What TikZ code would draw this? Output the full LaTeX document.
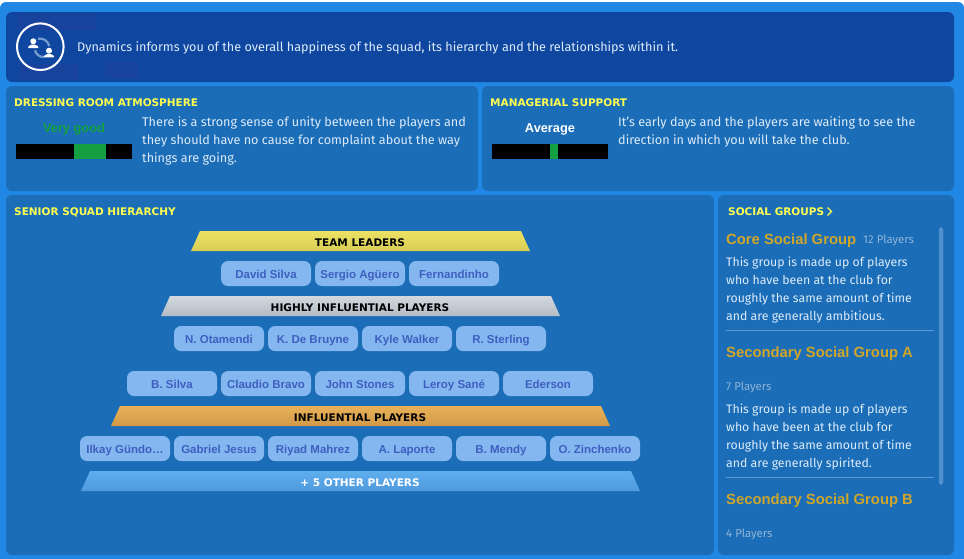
\documentclass[tikz,border=0pt]{standalone}
\usepackage{xcolor}
\usepackage{fontspec}
\setmainfont{Fira Sans}
\newfontfamily\headfont{DejaVu Sans}
\newfontfamily\chipfont{Liberation Sans}

\definecolor{frameblue}{HTML}{2088E4}
\definecolor{headblue}{HTML}{0F47A0}
\definecolor{patchblue}{HTML}{17439D}
\definecolor{panelblue}{HTML}{1A6DB6}
\definecolor{chipblue}{HTML}{84B7F0}
\definecolor{chiptext}{HTML}{3F5FC0}
\definecolor{headyellow}{HTML}{FFFF50}
\definecolor{bodytext}{HTML}{DCEBFA}
\definecolor{barkgreen}{HTML}{14A040}
\definecolor{groupgold}{HTML}{CFA62A}
\definecolor{countgray}{HTML}{8FB4DA}
\definecolor{rulegray}{HTML}{5C9AD4}
\definecolor{leadtop}{HTML}{EBE264}
\definecolor{leadbot}{HTML}{D9CE55}
\definecolor{hightop}{HTML}{D2D8DE}
\definecolor{highbot}{HTML}{B4BCC4}
\definecolor{inftop}{HTML}{E8B158}
\definecolor{infbot}{HTML}{D29A48}
\definecolor{othtop}{HTML}{5EAEEE}
\definecolor{othbot}{HTML}{4F9ADC}

\tikzset{
    panel/.style={fill=panelblue, rounded corners=6},
    heading/.style={anchor=base west, inner sep=0, text=headyellow, font=\headfont\fontsize{10.5}{13}\selectfont\bfseries},
    bodyline/.style={anchor=base west, inner sep=0, text=bodytext, font=\fontsize{12.65}{15}\selectfont},
    smallline/.style={anchor=base west, inner sep=0, text=bodytext, font=\fontsize{12.3}{15}\selectfont},
    groupname/.style={anchor=base west, inner sep=0, text=groupgold, font=\chipfont\fontsize{14.8}{17}\selectfont\bfseries},
    groupcount/.style={anchor=base west, inner sep=0, text=countgray, font=\fontsize{11.4}{13}\selectfont},
    chip/.style={fill=chipblue, rounded corners=7, minimum width=90pt, minimum height=25pt, inner sep=0, text=chiptext, text height=10pt, text depth=0.5pt, font=\chipfont\fontsize{11.5}{13}\selectfont\bfseries},
    banner/.style={inner sep=0, text height=8pt, text depth=0pt, font=\headfont\fontsize{10.5}{13}\selectfont\bfseries},
    rating/.style={inner sep=0, font=\chipfont\fontsize{12.8}{15}\selectfont\bfseries}
}

\begin{document}
\begin{tikzpicture}[x=1pt, y=-1pt]
    \useasboundingbox (0,0) rectangle (964,558);

    % Frame and panels
    \fill[frameblue, rounded corners=6] (0,2) rectangle (964,570);
    \fill[headblue, rounded corners=6] (6,12) rectangle (954,82);
    \fill[panel] (6,86) rectangle (478,191);
    \fill[panel] (482,86) rectangle (954,191);
    \fill[panel] (6,195) rectangle (714,555);
    \fill[panel] (718,195) rectangle (954,555);

    % Faint patches behind the header
    \fill[patchblue] (18,14) rectangle (96,30);
    \fill[patchblue] (20,64) rectangle (78,80);
    \fill[patchblue] (105,62) rectangle (138,78);

    % Icon
    \draw[white, line width=2pt] (40.3,46.7) circle (23.3);
    \draw[countgray!80!headblue, line width=2.2pt] (38,38.7) .. controls (43,37.5) and (48,41) .. (49.3,46);
    \draw[countgray!80!headblue, line width=2.2pt] (35,50.3) .. controls (36,54.5) and (40,57.5) .. (44.5,57);
    \foreach \px/\py in {33.3/41.3,49/50.7} {
        \fill[white] (\px,\py) circle (3);
        \fill[white, rounded corners=0.8] (\px-5.2,\py+6.7) -- (\px-5.2,\py+5.2) -- (\px-1.5,\py+3.2) -- (\px+1.5,\py+3.2) -- (\px+5.2,\py+5.2) -- (\px+5.2,\py+6.7) -- cycle;
    }
    \node[bodyline] (intro) at (77,51) {Dynamics informs you of the overall happiness of the squad, its hierarchy and the relationships within it.};

    % Dressing room atmosphere
    \node[heading] (atmoshead) at (14,106) {DRESSING ROOM ATMOSPHERE};
    \node[rating, text=barkgreen] (atmosvalue) at (74,129) {Very good};
    \fill[black] (16,144) rectangle (132,159);
    \fill[barkgreen] (74,144) rectangle (106,159);
    \node[bodyline] (atmosa) at (142,126) {There is a strong sense of unity between the players and};
    \node[bodyline] (atmosb) at (142,144) {they should have no cause for complaint about the way};
    \node[bodyline] (atmosc) at (142,162) {things are going.};

    % Managerial support
    \node[heading] (mgrhead) at (490,106) {MANAGERIAL SUPPORT};
    \node[rating, text=white] (mgrvalue) at (550,129) {Average};
    \fill[black] (492,144) rectangle (608,159);
    \fill[barkgreen] (550,144) rectangle (558,159);
    \node[bodyline] (mgra) at (618,126) {It's early days and the players are waiting to see the};
    \node[bodyline] (mgrb) at (618,144) {direction in which you will take the club.};

    % Senior squad hierarchy
    \node[heading] (squadhead) at (14,215) {SENIOR SQUAD HIERARCHY};

    % Banners of the pyramid
    \shade[top color=leadtop, bottom color=leadbot] (200,231) -- (521,231) -- (530,251) -- (191,251) -- cycle;
    \node[banner] (leaders) at (360,242) {TEAM LEADERS};
    \shade[top color=hightop, bottom color=highbot] (170,296) -- (551,296) -- (560,316) -- (161,316) -- cycle;
    \node[banner] (highly) at (360,307) {HIGHLY INFLUENTIAL PLAYERS};
    \shade[top color=inftop, bottom color=infbot] (120,406) -- (601,406) -- (610,426) -- (111,426) -- cycle;
    \node[banner] (influential) at (360,417) {INFLUENTIAL PLAYERS};
    \shade[top color=othtop, bottom color=othbot] (90,471) -- (631,471) -- (640,491) -- (81,491) -- cycle;
    \node[banner, text=white] (others) at (360,482) {+ 5 OTHER PLAYERS};

    % Players
    \foreach \x/\name in {266/David Silva,360/Sergio Agüero,454/Fernandinho} {
        \node[chip] (lead\x) at (\x,273.5) {\name};
    }
    \foreach \x/\name in {219/N. Otamendi,313/K. De Bruyne,407/Kyle Walker,501/R. Sterling} {
        \node[chip] (high\x) at (\x,338.5) {\name};
    }
    \foreach \x/\name in {172/B. Silva,266/Claudio Bravo,360/John Stones,454/Leroy Sané,548/Ederson} {
        \node[chip] (infa\x) at (\x,383.5) {\name};
    }
    \foreach \x/\name in {125/Ilkay Gündo…,219/Gabriel Jesus,313/Riyad Mahrez,407/A. Laporte,501/B. Mendy,595/O. Zinchenko} {
        \node[chip] (infb\x) at (\x,448.5) {\name};
    }

    % Social groups
    \node[heading] (socialhead) at (728,215) {SOCIAL GROUPS};
    \draw[headyellow, line width=1.2pt] (827.5,207.5) -- (831.5,211.5) -- (827.5,215.5);
    \fill[rulegray!80!panelblue, draw=headblue!60!panelblue, rounded corners=2] (938.5,227) rectangle (943.5,485);

    \node[groupname] (core) at (726,244) {Core Social Group};
    \node[groupcount] (corecount) at (863,243) {12 Players};
    \foreach \y/\txt in {266/This group is made up of players,284/who have been at the club for,302/roughly the same amount of time,320/and are generally ambitious.} {
        \node[smallline] (core\y) at (726,\y) {\txt};
    }
    \draw[rulegray] (726,330.5) -- (934,330.5);

    \node[groupname] (seca) at (726,357) {Secondary Social Group A};
    \node[groupcount] (secacount) at (726,390) {7 Players};
    \foreach \y/\txt in {413/This group is made up of players,431/who have been at the club for,449/roughly the same amount of time,467/and are generally spirited.} {
        \node[smallline] (seca\y) at (726,\y) {\txt};
    }
    \draw[rulegray] (726,477.5) -- (934,477.5);

    \node[groupname] (secb) at (726,504) {Secondary Social Group B};
    \node[groupcount] (secbcount) at (726,537) {4 Players};
\end{tikzpicture}
\end{document}
